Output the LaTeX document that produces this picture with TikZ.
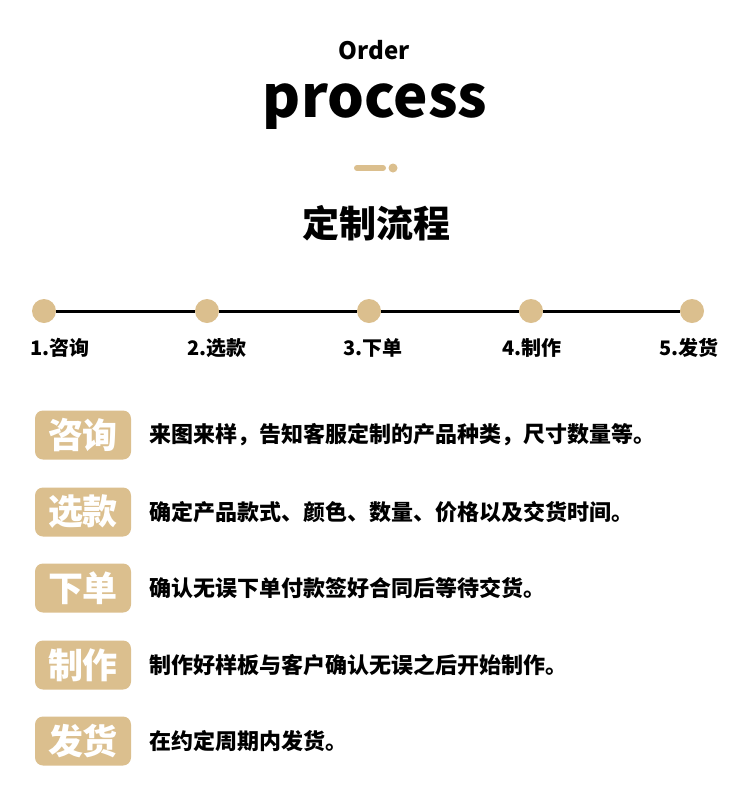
\documentclass[tikz,border=0pt]{standalone}
\usepackage{fontspec}
\setmainfont{Noto Sans CJK SC}
\usetikzlibrary{positioning}
\definecolor{gold}{HTML}{DBBF8E}
\newcommand{\fs}[1]{\fontsize{#1}{#1}\selectfont\bfseries}

\begin{document}
\begin{tikzpicture}[
  x=1pt, y=-1pt,
  dot/.style={circle, fill=gold, minimum size=24pt, inner sep=0pt},
  steplabel/.style={font=\fs{20}},
  badge/.style={fill=gold, rounded corners=8pt, minimum width=96pt, minimum height=49pt, inner sep=0pt, text=white, font=\fs{35}},
  desc/.style={anchor=west, inner sep=0pt, font=\fs{22}},
  line/.style={line width=3pt}
]
\useasboundingbox (0,0) rectangle (750,785);
% header
\node[font=\fs{24}] (order) at (374,50) {Order};
\node[font=\fs{58}] (title) at (375,107) {process};
\coordinate (barl) at (357,168);
\coordinate (barr) at (383,168);
\draw[gold, line width=6pt, line cap=round] (barl) -- (barr);
\fill[gold] (393,168) circle (4.5);
\node[font=\fs{37}] (cn) at (376,223) {定制流程};
% timeline
\node[dot] (s1) at (44,311) {};
\node[dot] (s2) at (207,311) {};
\node[dot] (s3) at (369,311) {};
\node[dot] (s4) at (531,311) {};
\node[dot] (s5) at (692,311) {};
\draw[line] (s1) -- (s2);
\draw[line] (s2) -- (s3);
\draw[line] (s3) -- (s4);
\draw[line] (s4) -- (s5);
\node[steplabel] (l1) at (60,348) {1.咨询};
\node[steplabel] (l2) at (217,348) {2.选款};
\node[steplabel] (l3) at (373,348) {3.下单};
\node[steplabel] (l4) at (532,348) {4.制作};
\node[steplabel] (l5) at (689,348) {5.发货};
% steps
\node[badge] (b1) at (83,435) {咨询};
\node[badge] (b2) at (83,512) {选款};
\node[badge] (b3) at (83,588) {下单};
\node[badge] (b4) at (83,665) {制作};
\node[badge] (b5) at (83,741) {发货};
\node[desc, right=18pt of b1] (d1) {来图来样，告知客服定制的产品种类，尺寸数量等。};
\node[desc, right=18pt of b2] (d2) {确定产品款式、颜色、数量、价格以及交货时间。};
\node[desc, right=18pt of b3] (d3) {确认无误下单付款签好合同后等待交货。};
\node[desc, right=18pt of b4] (d4) {制作好样板与客户确认无误之后开始制作。};
\node[desc, right=18pt of b5] (d5) {在约定周期内发货。};
\end{tikzpicture}
\end{document}
